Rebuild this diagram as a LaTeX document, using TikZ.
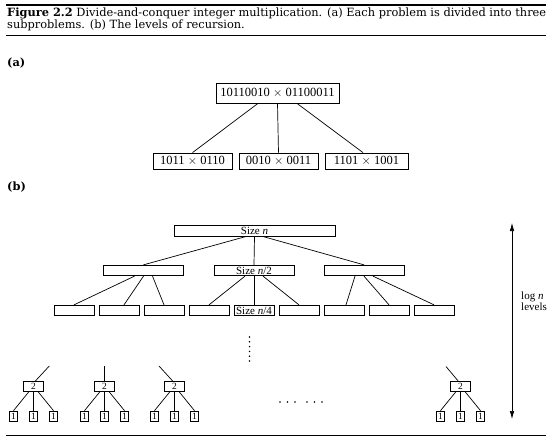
\documentclass[tikz,border=0pt]{standalone}
\usepackage{fontspec}
\setmainfont{Liberation Serif}
\newfontfamily\capfont{DejaVu Serif}
\usetikzlibrary{arrows.meta}
\newlength\capw
\newcommand\capline{\textbf{Figure 2.2} Divide-and-conquer integer multiplication. (a) Each problem is divided into three}
\begin{document}
\settowidth{\capw}{\capfont\fontsize{10pt}{12pt}\selectfont\capline}%
\pgfmathsetmacro\capsize{10*539/\capw}%
\begin{tikzpicture}[x=1pt,y=-1pt,
  abox/.style={draw, line width=0.8pt, inner sep=0pt, minimum height=16pt, font=\fontsize{12.5}{14}\selectfont},
  bbox/.style={draw, line width=0.8pt, inner sep=0pt, minimum height=10.5pt, font=\fontsize{11}{12}\selectfont},
  lbox/.style={bbox, minimum width=40pt},
  twobox/.style={draw, line width=0.7pt, inner sep=0pt, minimum width=20pt, minimum height=9.5pt, font=\fontsize{9.5}{10}\selectfont},
  onebox/.style={draw, line width=0.7pt, inner sep=0pt, minimum width=8.5pt, minimum height=10pt, font=\fontsize{9.5}{10}\selectfont},
  conn/.style={line width=0.7pt},
  rulethick/.style={line width=2pt},
  rulethin/.style={line width=1pt},
  dbl/.style={line width=0.7pt, {Latex[length=8pt,width=4.5pt]}-{Latex[length=8pt,width=4.5pt]}}
]
\useasboundingbox (0,0) rectangle (552,441);
% rules
\draw[rulethick] (6,5) -- (546,5);
\draw[rulethin] (6,36) -- (546,36);
\draw[rulethin] (6,435) -- (546,435);
% caption
\node[anchor=base west, inner sep=0pt, align=left, font=\capfont\fontsize{\capsize pt}{11.5pt}\selectfont] (cap) at (7,28.5)
  {\capline\\subproblems. (b) The levels of recursion.};
\node[anchor=base west, inner sep=0pt, font=\capfont\bfseries\fontsize{\capsize pt}{13pt}\selectfont] (la) at (7,67) {(a)};
\node[anchor=base west, inner sep=0pt, font=\capfont\bfseries\fontsize{\capsize pt}{13pt}\selectfont] (lb) at (7,191) {(b)};
% part (a)
\node[abox, minimum width=123pt, minimum height=20pt] (A) at (277.5,93) {10110010 $\times$ 01100011};
\node[abox, minimum width=79pt] (A1) at (192.5,161) {1011 $\times$ 0110};
\node[abox, minimum width=79pt] (A2) at (278.5,161) {0010 $\times$ 0011};
\node[abox, minimum width=83pt] (A3) at (366.5,161) {1101 $\times$ 1001};
\draw[conn] ([xshift=-19.5pt]A.south) -- (A1.north);
\draw[conn] (A.south) -- (A2.north);
\draw[conn] ([xshift=19.5pt]A.south) -- ([xshift=-3.5pt]A3.north);
% part (b)
\node[bbox, minimum width=161pt] (T) at (254.5,231) {Size \textit{n}};
\node[bbox, minimum width=80pt] (L1) at (143.5,270.5) {};
\node[bbox, minimum width=80pt] (L2) at (254,270.5) {Size \textit{n}/2};
\node[bbox, minimum width=80pt] (L3) at (364,270.5) {};
\draw[conn] ([xshift=-9pt]T.south) -- (L1.north);
\draw[conn] (T.south) -- (L2.north);
\draw[conn] ([xshift=9pt]T.south) -- (L3.north);
\foreach \k in {1,...,9} {
  \node[lbox] (C\k) at (29+45*\k,310.5) {};
}
\node[inner sep=0pt, font=\fontsize{11}{12}\selectfont] (C5t) at (C5) {Size \textit{n}/4};
\draw[conn] ([xshift=-9pt]L1.south) -- (C1.north);
\draw[conn] (L1.south) -- ([xshift=5pt]C2.north);
\draw[conn] ([xshift=9pt]L1.south) -- (C3.north);
\draw[conn] ([xshift=-9pt]L2.south) -- (C4.north);
\draw[conn] (L2.south) -- (C5.north);
\draw[conn] ([xshift=9pt]L2.south) -- (C6.north);
\draw[conn] ([xshift=-9pt]L3.south) -- ([xshift=2pt]C7.north);
\draw[conn] (L3.south) -- (C8.north);
\draw[conn] ([xshift=9pt]L3.south) -- (C9.north);
% vertical dots
\foreach \k in {0,...,5} \fill (249.5,337+4.8*\k) circle (0.85pt);
% bottom groups
\foreach \i/\cx in {1/33.5,2/104.5,3/174.5,4/460.5} {
  \node[twobox] (t\i) at (\cx,386.5) {2};
  \node[onebox] (o\i a) at (\cx-20,416) {1};
  \node[onebox] (o\i b) at (\cx,416) {1};
  \node[onebox] (o\i c) at (\cx+20,416) {1};
  \draw[conn] ([xshift=-4.5pt]t\i.south) -- (o\i a.north);
  \draw[conn] (t\i.south) -- (o\i b.north);
  \draw[conn] ([xshift=4.5pt]t\i.south) -- (o\i c.north);
}
\coordinate (u1) at (49.3,366);
\coordinate (u2) at (104.5,366);
\coordinate (u3) at (159,366);
\coordinate (u4) at (446,366.5);
\draw[conn] ([xshift=1.5pt]t1.north) -- (u1);
\draw[conn] (t2.north) -- (u2);
\draw[conn] ([xshift=-1.5pt]t3.north) -- (u3);
\draw[conn] ([xshift=-2pt]t4.north) -- (u4);
% horizontal dots
\foreach \xx in {280,287.5,295,307,314.5,322} \fill (\xx,402) circle (0.85pt);
% arrow and label
\coordinate (atop) at (512,223);
\coordinate (abot) at (512,419);
\draw[dbl] (atop) -- (abot);
\node[anchor=base west, inner sep=0pt, align=left, font=\fontsize{11}{11}\selectfont] (lbl) at (521,310) {log \textit{n}\\levels};
\end{tikzpicture}
\end{document}
